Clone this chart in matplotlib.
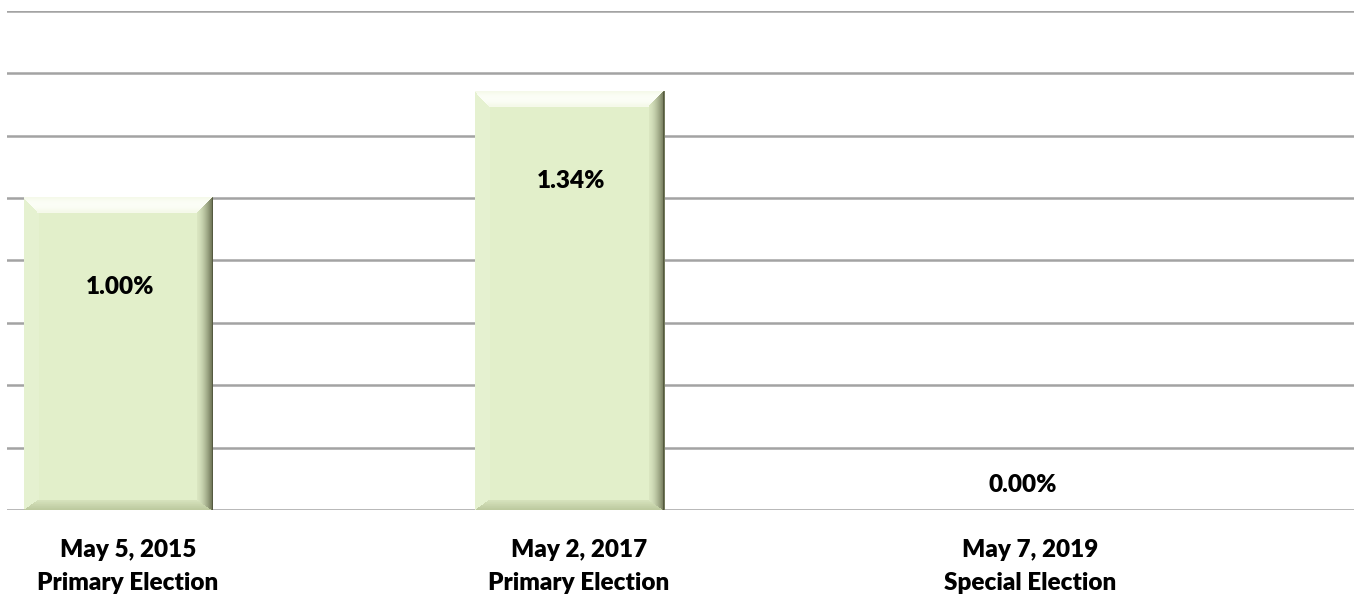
import matplotlib
matplotlib.use("Agg")
import matplotlib.pyplot as plt
import numpy as np
from matplotlib.patches import Polygon
from matplotlib.colors import to_rgb

categories = ["May 5, 2015\nPrimary Election", "May 2, 2017\nPrimary Election", "May 7, 2019\nSpecial Election"]
values = [1.00, 1.34, 0.00]
value_labels = ["1.00%", "1.34%", "0.00%"]
yticks = [0.0, 0.2, 0.4, 0.6, 0.8, 1.0, 1.2, 1.4, 1.6]

FONT = ["Lato", "DejaVu Sans"]
FACE = "#E2EFCA"

W, H = 1357, 595
fig = plt.figure(figsize=(W / 100, H / 100), dpi=100)
ax_left, ax_right, ax_top, ax_bot = 7, 1354, 10.7, 510
ax = fig.add_axes([ax_left / W, (H - ax_bot) / H, (ax_right - ax_left) / W, (ax_bot - ax_top) / H])

x = np.arange(len(categories))
bar_w = 0.417
bars = ax.bar(x, values, width=bar_w, color=FACE, zorder=3, linewidth=0)

ax.set_xlim(-0.248, 2.738)
ax.set_ylim(0, 1.6)
ax.set_yticks(yticks)
ax.yaxis.grid(True, color="#A3A3A3", linewidth=1.8, zorder=0)
ax.set_axisbelow(True)
ax.tick_params(axis="y", length=0, labelleft=False)
ax.tick_params(axis="x", length=0, labelbottom=False)
for s in ax.spines.values():
    s.set_visible(False)

TXT = dict(fontsize=17.5, fontweight="heavy", family=FONT, color="#000000")

# category labels
for xi, cat in zip(x, categories):
    ax.annotate(cat, xy=(xi, 0), xycoords="data", xytext=(9, -29), textcoords="offset pixels",
                ha="center", va="top", linespacing=1.62, **TXT)

# bevel effect built from the bar geometry
def blend(c1, c2, t):
    a, b = np.array(to_rgb(c1)), np.array(to_rgb(c2))
    return tuple(a + (b - a) * t)

for b in bars:
    if b.get_height() <= 0:
        continue
    (px0, py0) = ax.transData.transform((b.get_x(), b.get_y()))
    (px1, py1) = ax.transData.transform((b.get_x() + b.get_width(), b.get_y() + b.get_height()))
    bt, br, bb, bl = 15, 15, 10, 14
    kw = dict(transform=None, zorder=4, linewidth=0, closed=True, antialiased=False)
    # left bevel
    fig.patches.append(Polygon([(px0, py0), (px0, py1), (px0 + bl, py1 - bt), (px0 + bl, py0 + bb)],
                               facecolor="#E5F1D0", **kw))
    # top bevel (gradient)
    n = 15
    for i in range(n):
        t0, t1 = i / n, (i + 1) / n
        c = blend("#F4F9E8", "#FCFEF8", np.sin(np.pi * (t0 + t1) / 2) * 0.9)
        fig.patches.append(Polygon([(px0 + bl * t0, py1 - bt * t0), (px1 - br * t0, py1 - bt * t0),
                                    (px1 - br * t1, py1 - bt * t1), (px0 + bl * t1, py1 - bt * t1)],
                                   facecolor=c, **kw))
    # bottom bevel
    for i in range(n):
        t0, t1 = i / n, (i + 1) / n
        c = blend("#BAC79C", "#D6E2BC", (t0 + t1) / 2)
        fig.patches.append(Polygon([(px0 + bl * t0, py0 + bb * t0), (px1 - br * t0, py0 + bb * t0),
                                    (px1 - br * t1, py0 + bb * t1), (px0 + bl * t1, py0 + bb * t1)],
                                   facecolor=c, **kw))
    # right bevel (gradient, darker to the edge)
    for i in range(n):
        t0, t1 = i / n, (i + 1) / n
        t = (t0 + t1) / 2
        c = blend("#D9E5C0", "#6E7556", t ** 1.6)
        xa, xb = px1 - br * (1 - t0), px1 - br * (1 - t1)
        ya_top, yb_top = py1 - bt * (1 - t0), py1 - bt * (1 - t1)
        ya_bot, yb_bot = py0 + bb * (1 - t0), py0 + bb * (1 - t1)
        fig.patches.append(Polygon([(xa, ya_bot), (xa, ya_top), (xb, yb_top), (xb, yb_bot)],
                                   facecolor=c, **kw))
    # thin dark outline on the right edge
    fig.patches.append(Polygon([(px1 - 1.2, py0), (px1, py0), (px1, py1), (px1 - 1.2, py1)],
                               facecolor="#555A40", **kw))

# value labels
for xi, v, lab in zip(x, values, value_labels):
    if v > 0:
        ax.annotate(lab, xy=(xi, v), xytext=(1, -89), textcoords="offset pixels",
                    ha="center", va="center", zorder=6, **TXT)
    else:
        ax.annotate(lab, xy=(xi, v), xytext=(2, 25), textcoords="offset pixels",
                    ha="center", va="center", zorder=6, **TXT)

fig.savefig("out.png", dpi=100)
